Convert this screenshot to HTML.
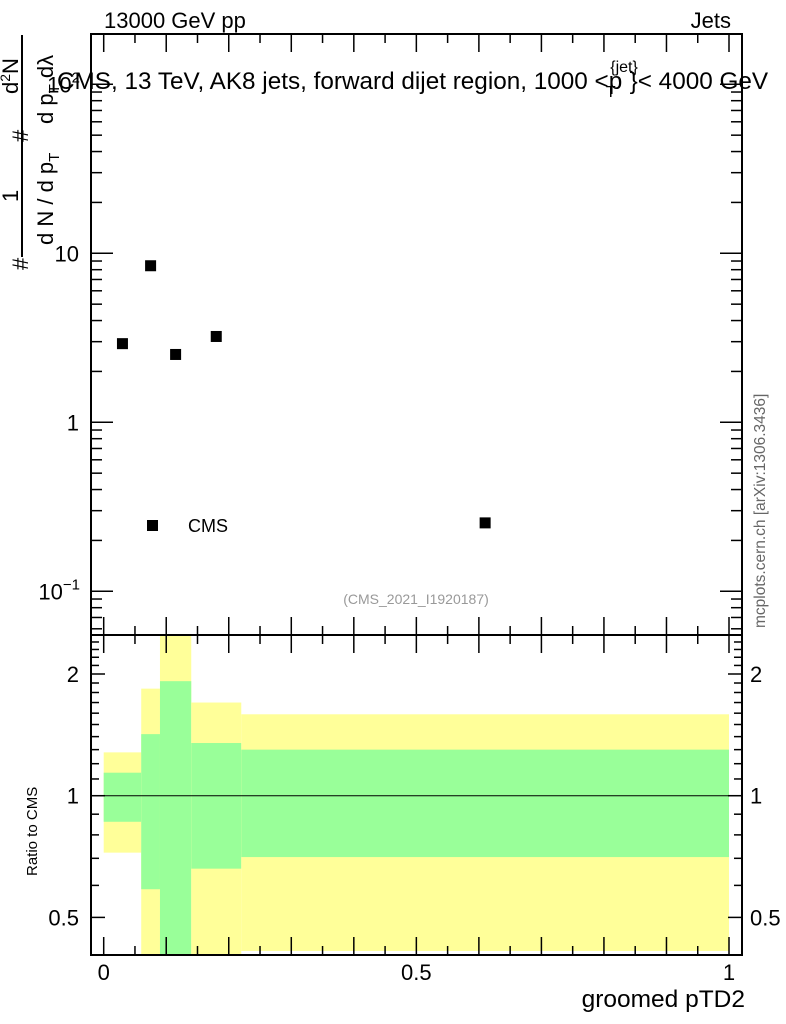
<!DOCTYPE html>
<html><head><meta charset="utf-8"><style>
html,body{margin:0;padding:0;background:#fff}
svg{display:block;font-family:"Liberation Sans",sans-serif}
</style></head><body>
<svg id="c" width="786" height="1024" xmlns="http://www.w3.org/2000/svg">
<g id="bands"></g>
<g id="axes"></g>
<g id="pts"></g>
<text x="104" y="28" font-size="22">13000 GeV pp</text>
<text x="731" y="28" font-size="22" text-anchor="end">Jets</text>
<text x="57" y="89" font-size="24.3">CMS, 13 TeV, AK8 jets, forward dijet region, 1000 &lt;p<tspan font-size="16" dy="-17" dx="-12">{jet}</tspan><tspan font-size="16" dy="25" dx="-32">T</tspan><tspan dy="-8" dx="14">}&lt; 4000 GeV</tspan></text>
<text x="416" y="604" font-size="14" fill="#999" text-anchor="middle">(CMS_2021_I1920187)</text>
<text transform="translate(765,628) rotate(-90)" font-size="15.5" fill="#666">mcplots.cern.ch [arXiv:1306.3436]</text>
<rect x="147" y="520" width="11" height="11" fill="#000"/>
<text x="188" y="532" font-size="18">CMS</text>
<text x="745" y="1007" font-size="24.5" text-anchor="end">groomed pTD2</text>
<text transform="translate(37,876) rotate(-90)" font-size="15">Ratio to CMS</text>
<g font-size="22">
<text transform="translate(28,270) rotate(-90)">#</text>
<text transform="translate(18,202) rotate(-90)">1</text>
<line x1="22" y1="257" x2="22" y2="35" stroke="#000" stroke-width="2"/>
<text transform="translate(53,245) rotate(-90)">d N / d p<tspan font-size="15" dy="6">T</tspan></text>
<text transform="translate(28,142) rotate(-90)">#</text>
<text transform="translate(18,94) rotate(-90)">d<tspan font-size="14" dy="-8">2</tspan><tspan dy="8">N</tspan></text>
<text transform="translate(53,124) rotate(-90)">d p<tspan font-size="15" dy="6">T</tspan><tspan dy="-6">  d</tspan>λ</text>
</g>
</svg>
<script>
const binEdges=[0,0.06,0.09,0.14,0.22,1.0];
const greenLo=[0.862,0.587,0.30,0.66,0.705];
const greenHi=[1.14,1.42,1.92,1.35,1.30];
const yellowLo=[0.723,0.30,0.30,0.30,0.413];
const yellowHi=[1.28,1.84,3.0,1.70,1.59];
const xVals=[0.03,0.075,0.115,0.18,0.61];
const yVals=[2.92,8.44,2.52,3.22,0.254];
const NS="http://www.w3.org/2000/svg";
const L=91,R=742,T=34,MB=635,RB=955;
function X(v){return 103.7+625.3*v;}
function YM(v){return 422.3-169*Math.log10(v);}
function YR(v){return 795.7-121.7*Math.log2(v);}
function clampR(y){return Math.max(MB,Math.min(RB,y));}
function mk(p,tag,a){const e=document.createElementNS(NS,tag);for(const k in a)e.setAttribute(k,a[k]);p.appendChild(e);return e;}
const bands=document.getElementById('bands'),ax=document.getElementById('axes'),pts=document.getElementById('pts');
for(let i=0;i<xVals.length;i++){
 const x0=X(binEdges[i]),x1=X(binEdges[i+1]);
 let y0=clampR(YR(yellowHi[i])),y1=clampR(YR(yellowLo[i]));
 const yb=mk(bands,'rect',{x:x0,y:y0,width:x1-x0,height:y1-y0,fill:'#ffff99'});
 
 
 y0=clampR(YR(greenHi[i]));y1=clampR(YR(greenLo[i]));
 const gb=mk(bands,'rect',{x:x0,y:y0,width:x1-x0,height:y1-y0,fill:'#99ff99'});
 
 
 const p=mk(pts,'rect',{x:X(xVals[i])-5.5,y:YM(yVals[i])-5.5,width:11,height:11,fill:'#000'});
 
 
}
const s={stroke:'#000','stroke-width':2,fill:'none'};
mk(ax,'rect',Object.assign({x:L,y:T,width:R-L,height:MB-T},s));
mk(ax,'rect',Object.assign({x:L,y:MB,width:R-L,height:RB-MB},s));
mk(ax,'line',{x1:L,x2:R,y1:YR(1),y2:YR(1),stroke:'#000','stroke-width':1});
for(let k=0;k<=20;k++){const v=k*0.05,x=X(v),len=(k%2==0)?18:9;
 for(const [yb,yt] of [[MB,T],[RB,MB]]){
  mk(ax,'line',{x1:x,x2:x,y1:yb,y2:yb-len,stroke:'#000','stroke-width':1.5});
  mk(ax,'line',{x1:x,x2:x,y1:yt,y2:yt+len,stroke:'#000','stroke-width':1.5});}
}
[[0,'0'],[0.5,'0.5'],[1,'1']].forEach(([v,t])=>{const e=mk(ax,'text',{x:X(v),y:980,'font-size':22,'text-anchor':'middle'});e.textContent=t;});
for(let d=-2;d<=2;d++)for(let m=1;m<=9;m++){const v=m*Math.pow(10,d),y=YM(v);if(y<T||y>MB)continue;const len=m==1?22:11;
 mk(ax,'line',{x1:L,x2:L+len,y1:y,y2:y,stroke:'#000','stroke-width':1.5});
 mk(ax,'line',{x1:R,x2:R-len,y1:y,y2:y,stroke:'#000','stroke-width':1.5});}
[[1,'1'],[10,'10']].forEach(([v,t])=>{const e=mk(ax,'text',{x:79,y:YM(v)+8,'font-size':22,'text-anchor':'end'});e.textContent=t;});
let e=mk(ax,'text',{x:80,y:YM(0.1)+8,'font-size':22,'text-anchor':'end'});e.innerHTML='10<tspan font-size="15" dy="-10">−1</tspan>';
e=mk(ax,'text',{x:80,y:YM(100)+8,'font-size':22,'text-anchor':'end'});e.innerHTML='10<tspan font-size="15" dy="-10">2</tspan>';
const rt=[0.4,0.5,0.6,0.7,0.8,0.9,1,1.1,1.2,1.3,1.4,1.5,1.6,1.7,1.8,1.9,2,2.1,2.2,2.3,2.4,2.5];
rt.forEach(v=>{const y=YR(v);if(y<MB||y>RB)return;const big=(v==0.5||v==1||v==2);const len=big?14:8;
 mk(ax,'line',{x1:L,x2:L+len,y1:y,y2:y,stroke:'#000','stroke-width':1.5});
 mk(ax,'line',{x1:R,x2:R-len,y1:y,y2:y,stroke:'#000','stroke-width':1.5});});
[[0.5,'0.5'],[1,'1'],[2,'2']].forEach(([v,t])=>{
 let e=mk(ax,'text',{x:79,y:YR(v)+8,'font-size':22,'text-anchor':'end'});e.textContent=t;
 e=mk(ax,'text',{x:750,y:YR(v)+8,'font-size':22});e.textContent=t;});
</script>
</body></html>
